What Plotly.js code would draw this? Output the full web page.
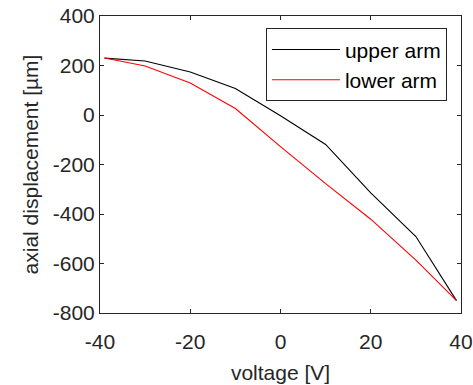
<!DOCTYPE html>
<html>
<head>
<meta charset="utf-8">
<script src="https://cdn.plot.ly/plotly-3.0.1.min.js"></script>
<style>html,body{margin:0;padding:0;background:#fff;}#chart{width:473px;height:385px;}</style>
</head>
<body>
<div id="chart"></div>
<script>
var voltage = [-39, -30, -20, -10, 0, 10, 20, 30, 39];
var upperArm = [230, 218, 174, 107, -3, -119, -315, -491, -750];
var lowerArm = [230, 198, 129, 26, -128, -277, -421, -586, -750];
var seriesNames = ["upper arm", "lower arm"];
var xTickVals = [-40, -20, 0, 20, 40];
var xTickText = ["-40", "-20", "0", "20", "40"];
var yTickVals = [-800, -600, -400, -200, 0, 200, 400];
var yTickText = ["-800", "-600", "-400", "-200", "0", "200", "400"];

var axisColor = "#262626";
var fontFam = "Liberation Sans, Arial, Helvetica, sans-serif";

var traces = [
  {x: voltage, y: upperArm, name: seriesNames[0], mode: "lines", type: "scatter",
   line: {color: "#000000", width: 1.1}},
  {x: voltage, y: lowerArm, name: seriesNames[1], mode: "lines", type: "scatter",
   line: {color: "#ff0000", width: 1.1}}
];

var layout = {
  width: 473, height: 385,
  margin: {l: 100, r: 12, t: 16, b: 72, pad: 0},
  paper_bgcolor: "#ffffff", plot_bgcolor: "#ffffff",
  font: {family: fontFam, size: 21, color: axisColor},
  showlegend: true,
  legend: {
    x: 0.961, y: 0.9586, xanchor: "right", yanchor: "top",
    bordercolor: axisColor, borderwidth: 1, bgcolor: "#ffffff",
    font: {family: fontFam, size: 21, color: "#000000"},
    itemwidth: 68
  },
  xaxis: {
    range: [-40, 40], tickmode: "array", tickvals: xTickVals, ticktext: xTickText,
    showgrid: false, zeroline: false,
    showline: true, linecolor: axisColor, linewidth: 1, mirror: "ticks",
    ticks: "inside", ticklen: 4, tickcolor: axisColor, tickwidth: 1,
    ticklabelstandoff: 10,
    tickfont: {family: fontFam, size: 21, color: axisColor},
    title: {text: "voltage [V]", font: {family: fontFam, size: 21, color: axisColor}, standoff: 13}
  },
  yaxis: {
    range: [-800, 400], tickmode: "array", tickvals: yTickVals, ticktext: yTickText,
    showgrid: false, zeroline: false,
    showline: true, linecolor: axisColor, linewidth: 1, mirror: "ticks",
    ticks: "inside", ticklen: 4, tickcolor: axisColor, tickwidth: 1,
    tickfont: {family: fontFam, size: 21, color: axisColor},
    title: {text: "axial displacement [µm]", font: {family: fontFam, size: 21, color: axisColor}, standoff: 8}
  }
};

Plotly.newPlot("chart", traces, layout, {staticPlot: true, displayModeBar: false});
</script>
</body>
</html>
